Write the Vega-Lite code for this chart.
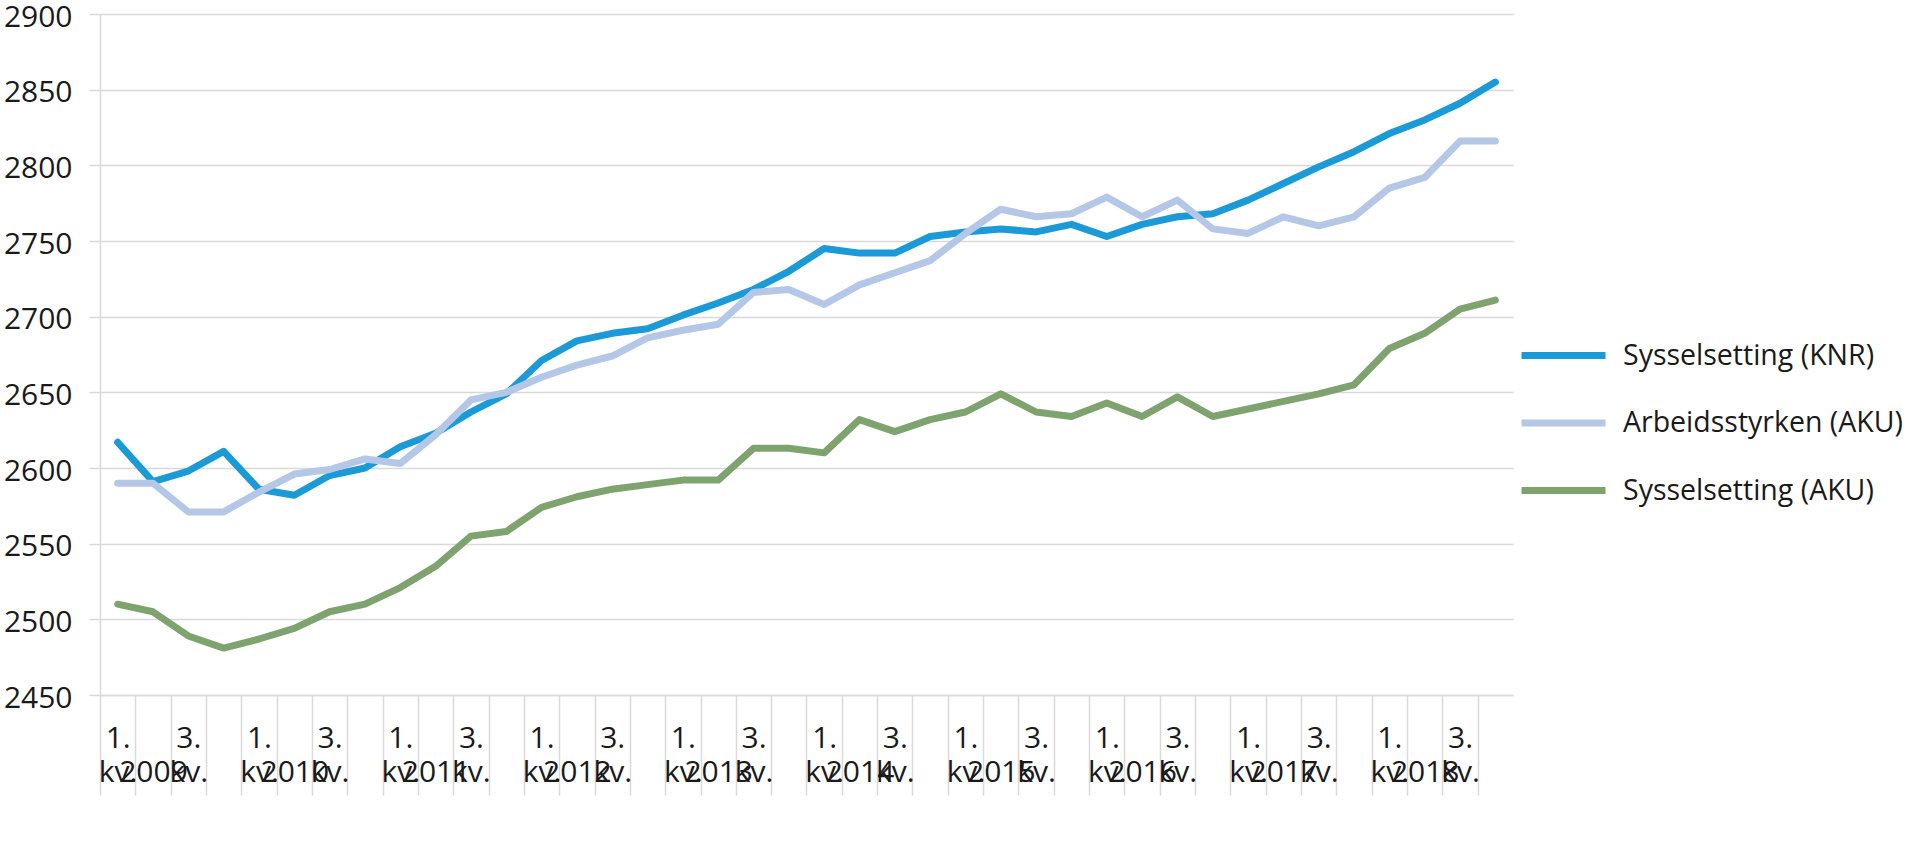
{
"$schema": "https://vega.github.io/schema/vega-lite/v6.json",
"width": 1413, "height": 681,
"autosize": {"type": "none"},
"padding": {"left": 100, "top": 14, "right": 407, "bottom": 164},
"background": "white",
"config": {"view": {"stroke": null}, "font": "Open Sans"},
"data": {"values": [
{"kvartal":"2009K1","serie":"Sysselsetting (KNR)","verdi":2617},
{"kvartal":"2009K2","serie":"Sysselsetting (KNR)","verdi":2591},
{"kvartal":"2009K3","serie":"Sysselsetting (KNR)","verdi":2598},
{"kvartal":"2009K4","serie":"Sysselsetting (KNR)","verdi":2611},
{"kvartal":"2010K1","serie":"Sysselsetting (KNR)","verdi":2586},
{"kvartal":"2010K2","serie":"Sysselsetting (KNR)","verdi":2582},
{"kvartal":"2010K3","serie":"Sysselsetting (KNR)","verdi":2595},
{"kvartal":"2010K4","serie":"Sysselsetting (KNR)","verdi":2600},
{"kvartal":"2011K1","serie":"Sysselsetting (KNR)","verdi":2614},
{"kvartal":"2011K2","serie":"Sysselsetting (KNR)","verdi":2623},
{"kvartal":"2011K3","serie":"Sysselsetting (KNR)","verdi":2637},
{"kvartal":"2011K4","serie":"Sysselsetting (KNR)","verdi":2649},
{"kvartal":"2012K1","serie":"Sysselsetting (KNR)","verdi":2671},
{"kvartal":"2012K2","serie":"Sysselsetting (KNR)","verdi":2684},
{"kvartal":"2012K3","serie":"Sysselsetting (KNR)","verdi":2689},
{"kvartal":"2012K4","serie":"Sysselsetting (KNR)","verdi":2692},
{"kvartal":"2013K1","serie":"Sysselsetting (KNR)","verdi":2701},
{"kvartal":"2013K2","serie":"Sysselsetting (KNR)","verdi":2709},
{"kvartal":"2013K3","serie":"Sysselsetting (KNR)","verdi":2718},
{"kvartal":"2013K4","serie":"Sysselsetting (KNR)","verdi":2730},
{"kvartal":"2014K1","serie":"Sysselsetting (KNR)","verdi":2745},
{"kvartal":"2014K2","serie":"Sysselsetting (KNR)","verdi":2742},
{"kvartal":"2014K3","serie":"Sysselsetting (KNR)","verdi":2742},
{"kvartal":"2014K4","serie":"Sysselsetting (KNR)","verdi":2753},
{"kvartal":"2015K1","serie":"Sysselsetting (KNR)","verdi":2756},
{"kvartal":"2015K2","serie":"Sysselsetting (KNR)","verdi":2758},
{"kvartal":"2015K3","serie":"Sysselsetting (KNR)","verdi":2756},
{"kvartal":"2015K4","serie":"Sysselsetting (KNR)","verdi":2761},
{"kvartal":"2016K1","serie":"Sysselsetting (KNR)","verdi":2753},
{"kvartal":"2016K2","serie":"Sysselsetting (KNR)","verdi":2761},
{"kvartal":"2016K3","serie":"Sysselsetting (KNR)","verdi":2766},
{"kvartal":"2016K4","serie":"Sysselsetting (KNR)","verdi":2768},
{"kvartal":"2017K1","serie":"Sysselsetting (KNR)","verdi":2777},
{"kvartal":"2017K2","serie":"Sysselsetting (KNR)","verdi":2788},
{"kvartal":"2017K3","serie":"Sysselsetting (KNR)","verdi":2799},
{"kvartal":"2017K4","serie":"Sysselsetting (KNR)","verdi":2809},
{"kvartal":"2018K1","serie":"Sysselsetting (KNR)","verdi":2821},
{"kvartal":"2018K2","serie":"Sysselsetting (KNR)","verdi":2830},
{"kvartal":"2018K3","serie":"Sysselsetting (KNR)","verdi":2841},
{"kvartal":"2018K4","serie":"Sysselsetting (KNR)","verdi":2855},
{"kvartal":"2009K1","serie":"Arbeidsstyrken (AKU)","verdi":2590},
{"kvartal":"2009K2","serie":"Arbeidsstyrken (AKU)","verdi":2590},
{"kvartal":"2009K3","serie":"Arbeidsstyrken (AKU)","verdi":2571},
{"kvartal":"2009K4","serie":"Arbeidsstyrken (AKU)","verdi":2571},
{"kvartal":"2010K1","serie":"Arbeidsstyrken (AKU)","verdi":2584},
{"kvartal":"2010K2","serie":"Arbeidsstyrken (AKU)","verdi":2596},
{"kvartal":"2010K3","serie":"Arbeidsstyrken (AKU)","verdi":2599},
{"kvartal":"2010K4","serie":"Arbeidsstyrken (AKU)","verdi":2606},
{"kvartal":"2011K1","serie":"Arbeidsstyrken (AKU)","verdi":2603},
{"kvartal":"2011K2","serie":"Arbeidsstyrken (AKU)","verdi":2622},
{"kvartal":"2011K3","serie":"Arbeidsstyrken (AKU)","verdi":2645},
{"kvartal":"2011K4","serie":"Arbeidsstyrken (AKU)","verdi":2650},
{"kvartal":"2012K1","serie":"Arbeidsstyrken (AKU)","verdi":2660},
{"kvartal":"2012K2","serie":"Arbeidsstyrken (AKU)","verdi":2668},
{"kvartal":"2012K3","serie":"Arbeidsstyrken (AKU)","verdi":2674},
{"kvartal":"2012K4","serie":"Arbeidsstyrken (AKU)","verdi":2686},
{"kvartal":"2013K1","serie":"Arbeidsstyrken (AKU)","verdi":2691},
{"kvartal":"2013K2","serie":"Arbeidsstyrken (AKU)","verdi":2695},
{"kvartal":"2013K3","serie":"Arbeidsstyrken (AKU)","verdi":2716},
{"kvartal":"2013K4","serie":"Arbeidsstyrken (AKU)","verdi":2718},
{"kvartal":"2014K1","serie":"Arbeidsstyrken (AKU)","verdi":2708},
{"kvartal":"2014K2","serie":"Arbeidsstyrken (AKU)","verdi":2721},
{"kvartal":"2014K3","serie":"Arbeidsstyrken (AKU)","verdi":2729},
{"kvartal":"2014K4","serie":"Arbeidsstyrken (AKU)","verdi":2737},
{"kvartal":"2015K1","serie":"Arbeidsstyrken (AKU)","verdi":2755},
{"kvartal":"2015K2","serie":"Arbeidsstyrken (AKU)","verdi":2771},
{"kvartal":"2015K3","serie":"Arbeidsstyrken (AKU)","verdi":2766},
{"kvartal":"2015K4","serie":"Arbeidsstyrken (AKU)","verdi":2768},
{"kvartal":"2016K1","serie":"Arbeidsstyrken (AKU)","verdi":2779},
{"kvartal":"2016K2","serie":"Arbeidsstyrken (AKU)","verdi":2766},
{"kvartal":"2016K3","serie":"Arbeidsstyrken (AKU)","verdi":2777},
{"kvartal":"2016K4","serie":"Arbeidsstyrken (AKU)","verdi":2758},
{"kvartal":"2017K1","serie":"Arbeidsstyrken (AKU)","verdi":2755},
{"kvartal":"2017K2","serie":"Arbeidsstyrken (AKU)","verdi":2766},
{"kvartal":"2017K3","serie":"Arbeidsstyrken (AKU)","verdi":2760},
{"kvartal":"2017K4","serie":"Arbeidsstyrken (AKU)","verdi":2766},
{"kvartal":"2018K1","serie":"Arbeidsstyrken (AKU)","verdi":2785},
{"kvartal":"2018K2","serie":"Arbeidsstyrken (AKU)","verdi":2792},
{"kvartal":"2018K3","serie":"Arbeidsstyrken (AKU)","verdi":2816},
{"kvartal":"2018K4","serie":"Arbeidsstyrken (AKU)","verdi":2816},
{"kvartal":"2009K1","serie":"Sysselsetting (AKU)","verdi":2510},
{"kvartal":"2009K2","serie":"Sysselsetting (AKU)","verdi":2505},
{"kvartal":"2009K3","serie":"Sysselsetting (AKU)","verdi":2489},
{"kvartal":"2009K4","serie":"Sysselsetting (AKU)","verdi":2481},
{"kvartal":"2010K1","serie":"Sysselsetting (AKU)","verdi":2487},
{"kvartal":"2010K2","serie":"Sysselsetting (AKU)","verdi":2494},
{"kvartal":"2010K3","serie":"Sysselsetting (AKU)","verdi":2505},
{"kvartal":"2010K4","serie":"Sysselsetting (AKU)","verdi":2510},
{"kvartal":"2011K1","serie":"Sysselsetting (AKU)","verdi":2521},
{"kvartal":"2011K2","serie":"Sysselsetting (AKU)","verdi":2535},
{"kvartal":"2011K3","serie":"Sysselsetting (AKU)","verdi":2555},
{"kvartal":"2011K4","serie":"Sysselsetting (AKU)","verdi":2558},
{"kvartal":"2012K1","serie":"Sysselsetting (AKU)","verdi":2574},
{"kvartal":"2012K2","serie":"Sysselsetting (AKU)","verdi":2581},
{"kvartal":"2012K3","serie":"Sysselsetting (AKU)","verdi":2586},
{"kvartal":"2012K4","serie":"Sysselsetting (AKU)","verdi":2589},
{"kvartal":"2013K1","serie":"Sysselsetting (AKU)","verdi":2592},
{"kvartal":"2013K2","serie":"Sysselsetting (AKU)","verdi":2592},
{"kvartal":"2013K3","serie":"Sysselsetting (AKU)","verdi":2613},
{"kvartal":"2013K4","serie":"Sysselsetting (AKU)","verdi":2613},
{"kvartal":"2014K1","serie":"Sysselsetting (AKU)","verdi":2610},
{"kvartal":"2014K2","serie":"Sysselsetting (AKU)","verdi":2632},
{"kvartal":"2014K3","serie":"Sysselsetting (AKU)","verdi":2624},
{"kvartal":"2014K4","serie":"Sysselsetting (AKU)","verdi":2632},
{"kvartal":"2015K1","serie":"Sysselsetting (AKU)","verdi":2637},
{"kvartal":"2015K2","serie":"Sysselsetting (AKU)","verdi":2649},
{"kvartal":"2015K3","serie":"Sysselsetting (AKU)","verdi":2637},
{"kvartal":"2015K4","serie":"Sysselsetting (AKU)","verdi":2634},
{"kvartal":"2016K1","serie":"Sysselsetting (AKU)","verdi":2643},
{"kvartal":"2016K2","serie":"Sysselsetting (AKU)","verdi":2634},
{"kvartal":"2016K3","serie":"Sysselsetting (AKU)","verdi":2647},
{"kvartal":"2016K4","serie":"Sysselsetting (AKU)","verdi":2634},
{"kvartal":"2017K1","serie":"Sysselsetting (AKU)","verdi":2639},
{"kvartal":"2017K2","serie":"Sysselsetting (AKU)","verdi":2644},
{"kvartal":"2017K3","serie":"Sysselsetting (AKU)","verdi":2649},
{"kvartal":"2017K4","serie":"Sysselsetting (AKU)","verdi":2655},
{"kvartal":"2018K1","serie":"Sysselsetting (AKU)","verdi":2679},
{"kvartal":"2018K2","serie":"Sysselsetting (AKU)","verdi":2689},
{"kvartal":"2018K3","serie":"Sysselsetting (AKU)","verdi":2705},
{"kvartal":"2018K4","serie":"Sysselsetting (AKU)","verdi":2711}
]},
"mark": {"type": "line", "strokeWidth": 7, "strokeCap": "round", "strokeJoin": "round"},
"encoding": {
  "x": {
    "field": "kvartal", "type": "ordinal",
    "scale": {"type": "point", "padding": 0.5},
    "axis": {
      "title": null,
      "tickSize": 100,
      "tickOffset": -17.6625,
      "labelOffset": 17.6625,
      "tickColor": "#d9d9d9",
      "tickWidth": 1.5,
      "domainColor": "#d9d9d9",
      "domainWidth": 1.5,
      "grid": false,
      "labelAngle": 0,
      "labelFont": "Open Sans",
      "labelFontSize": 30,
      "labelColor": "#1a1a1a",
      "labelPadding": -72,
      "labelLineHeight": 34,
      "labelOverlap": false,
      "labelBound": false,
      "labelFlush": false,
      "labelBaseline": "top",
      "labelExpr": "indexof(datum.value,'K1')>=0 ? ['1.','kv.'] : indexof(datum.value,'K3')>=0 ? ['3.','kv.'] : indexof(datum.value,'K2')>=0 ? ['\u00a0','\u00a0','\u00a0','\u00a0\u00a0\u00a0\u00a0\u00a0' + slice(datum.value,0,4)] : ''"
    }
  },
  "y": {
    "field": "verdi", "type": "quantitative",
    "scale": {"domain": [2450, 2900], "nice": false, "zero": false},
    "axis": {
      "title": null,
      "format": "d",
      "values": [2450,2500,2550,2600,2650,2700,2750,2800,2850,2900],
      "grid": true,
      "gridColor": "#d9d9d9",
      "gridWidth": 1.5,
      "tickColor": "#d9d9d9",
      "tickWidth": 1.5,
      "tickSize": 11,
      "domainColor": "#d9d9d9",
      "domainWidth": 1.5,
      "labelFont": "Open Sans",
      "labelFontSize": 30,
      "labelColor": "#1a1a1a",
      "labelPadding": 17,
      "labelBaseline": "middle",
      "labelOffset": 3,
      "labelFlush": false,
      "labelOverlap": false,
      "labelBound": false
    }
  },
  "color": {
    "field": "serie", "type": "nominal",
    "scale": {
      "domain": ["Sysselsetting (KNR)", "Arbeidsstyrken (AKU)", "Sysselsetting (AKU)"],
      "range": ["#1b9ad7", "#b4c7e7", "#7ea36f"]
    },
    "legend": {
      "title": null,
      "orient": "none",
      "legendX": 1418,
      "legendY": 296,
      "padding": 0,
      "symbolType": "stroke",
      "symbolSize": 7056,
      "symbolStrokeWidth": 7,
      "rowPadding": 7.5,
      "labelOffset": 14,
      "labelFont": "Open Sans",
      "labelFontSize": 28.5,
      "labelColor": "#1a1a1a",
      "labelLimit": 500
    }
  }
}
}
